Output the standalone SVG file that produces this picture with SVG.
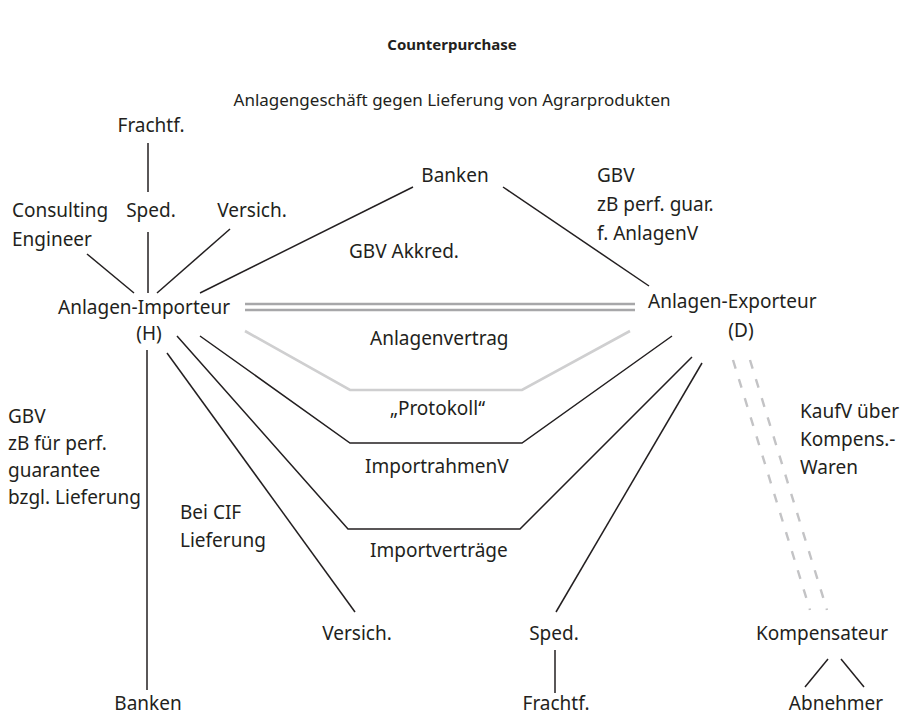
<svg xmlns="http://www.w3.org/2000/svg" width="904" height="716" viewBox="0 0 904 716">
  <style>
    text { font-family: "Noto Sans", "Open Sans", "DejaVu Sans", sans-serif; font-size: 19px; fill: #231f20; }
    .c { text-anchor: middle; }
    .title { font-weight: bold; font-size: 15px; }
    .sub { font-size: 17px; }
    .ln { stroke: #231f20; stroke-width: 1.5; fill: none; }
    .dbl { stroke: #a7a7a9; stroke-width: 2.6; fill: none; }
    .soft { stroke: #cfcfd0; stroke-width: 2.6; fill: none; }
    .dash { stroke: #c3c3c5; stroke-width: 2.4; fill: none; stroke-dasharray: 9 11; }
  </style>
  <rect width="904" height="716" fill="#ffffff"/>

  <g id="heading">
    <text class="c title" x="452" y="50">Counterpurchase</text>
    <text class="c sub" x="452" y="106">Anlagengeschäft gegen Lieferung von Agrarprodukten</text>
  </g>

  <g id="connectors">
    <!-- importer side, upper -->
    <line class="ln" x1="148" y1="143" x2="148" y2="192"/>
    <line class="ln" x1="148" y1="232" x2="148" y2="293"/>
    <line class="ln" x1="87" y1="254" x2="134" y2="293"/>
    <line class="ln" x1="230" y1="229" x2="157" y2="293"/>
    <line class="ln" x1="413" y1="187" x2="200" y2="293"/>
    <line class="ln" x1="503" y1="187" x2="649" y2="286"/>
    <!-- plant contract (double line) -->
    <line class="dbl" x1="245" y1="304" x2="635" y2="304"/>
    <line class="dbl" x1="245" y1="310" x2="635" y2="310"/>
    <!-- Protokoll -->
    <polyline class="soft" points="245,331 350,390 522,390 630,331"/>
    <!-- ImportrahmenV -->
    <polyline class="ln" points="200,336 350,443 522,443 672,336"/>
    <!-- Importverträge -->
    <polyline class="ln" points="177,336 348,529 520,529 692,357"/>
    <!-- lower branches -->
    <line class="ln" x1="167" y1="353" x2="355" y2="612"/>
    <line class="ln" x1="702" y1="363" x2="556" y2="612"/>
    <line class="ln" x1="147" y1="350" x2="147" y2="690"/>
    <line class="ln" x1="555" y1="650" x2="555" y2="693"/>
    <!-- compensation goods contract -->
    <line class="dash" x1="733" y1="360" x2="810" y2="610"/>
    <line class="dash" x1="750" y1="360" x2="827" y2="610"/>
    <line class="ln" x1="828" y1="659" x2="805" y2="687"/>
    <line class="ln" x1="841" y1="659" x2="864" y2="687"/>
  </g>

  <g id="frachtf-top"><text class="c" x="151" y="132">Frachtf.</text></g>
  <g id="consulting"><text x="12" y="217">Consulting</text><text x="12" y="246">Engineer</text></g>
  <g id="sped-top"><text class="c" x="151" y="217">Sped.</text></g>
  <g id="versich-top"><text class="c" x="252" y="217">Versich.</text></g>
  <g id="banken-top"><text class="c" x="455" y="182">Banken</text></g>
  <g id="gbv-right">
    <text x="597" y="182">GBV</text>
    <text x="597" y="211">zB perf. guar.</text>
    <text x="597" y="240">f. AnlagenV</text>
  </g>
  <g id="gbv-akkred"><text x="349" y="258">GBV Akkred.</text></g>
  <g id="importeur">
    <text x="58" y="314">Anlagen-Importeur</text>
    <text class="c" x="149" y="340">(H)</text>
  </g>
  <g id="exporteur">
    <text x="648" y="308">Anlagen-Exporteur</text>
    <text class="c" x="741" y="337">(D)</text>
  </g>
  <g id="anlagenvertrag"><text x="370" y="345">Anlagenvertrag</text></g>
  <g id="protokoll"><text x="390" y="415">„Protokoll“</text></g>
  <g id="importrahmenv"><text x="365" y="473">ImportrahmenV</text></g>
  <g id="importvertraege"><text x="370" y="557">Importverträge</text></g>
  <g id="gbv-left">
    <text x="8" y="423">GBV</text>
    <text x="8" y="450">zB für perf.</text>
    <text x="8" y="477">guarantee</text>
    <text x="8" y="504">bzgl. Lieferung</text>
  </g>
  <g id="cif"><text x="180" y="519">Bei CIF</text><text x="180" y="547">Lieferung</text></g>
  <g id="kaufv">
    <text x="800" y="418">KaufV über</text>
    <text x="800" y="446">Kompens.-</text>
    <text x="800" y="474">Waren</text>
  </g>
  <g id="versich-bottom"><text class="c" x="357" y="640">Versich.</text></g>
  <g id="sped-bottom"><text class="c" x="554" y="640">Sped.</text></g>
  <g id="kompensateur"><text class="c" x="822" y="640">Kompensateur</text></g>
  <g id="banken-bottom"><text class="c" x="148" y="710">Banken</text></g>
  <g id="frachtf-bottom"><text class="c" x="556" y="710">Frachtf.</text></g>
  <g id="abnehmer"><text class="c" x="836" y="710">Abnehmer</text></g>
</svg>
